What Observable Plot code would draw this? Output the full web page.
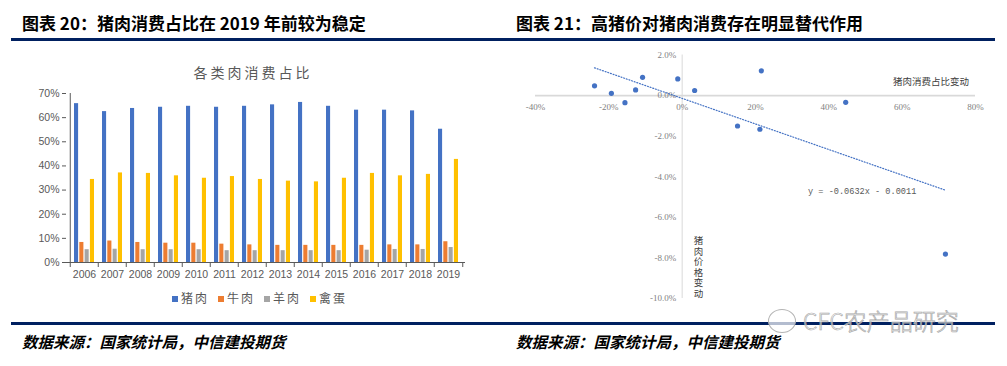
<!DOCTYPE html>
<html><head><meta charset="utf-8">
<script src="https://cdn.jsdelivr.net/npm/d3@7"></script>
<script src="https://cdn.jsdelivr.net/npm/@observablehq/plot@0.6"></script>
<style>
html,body{margin:0;padding:0;background:#fff;}
#page{position:relative;width:1007px;height:366px;overflow:hidden;font-family:"Noto Sans CJK SC","Noto Sans",sans-serif;}
.abs{position:absolute;white-space:nowrap;line-height:1;}
.title{font-size:17px;font-weight:700;color:#000;}
.rule{position:absolute;height:3px;background:#002060;}
.src{font-size:15.5px;font-weight:700;font-style:italic;color:#000;}
.legend{position:absolute;left:172px;top:292px;display:flex;gap:9px;font-size:12px;letter-spacing:2px;color:#595959;line-height:12px;}
.legend span.sw{display:inline-block;width:6px;height:6px;margin-right:3px;vertical-align:middle;position:relative;top:-1px;}
.anno{font-size:9.5px;color:#404040;}
</style></head><body>
<div id="page">
  <div class="abs title" style="left:22px;top:14px">图表 20：猪肉消费占比在 2019 年前较为稳定</div>
  <div class="abs title" style="left:516px;top:14px">图表 21：高猪价对猪肉消费存在明显替代作用</div>
  <div class="rule" style="left:11px;width:984px;top:38px"></div>
  <div class="rule" style="left:11px;width:984px;top:322px"></div>
  <div class="abs src" style="left:22px;top:334px">数据来源：国家统计局，中信建投期货</div>
  <div class="abs src" style="left:516px;top:334px">数据来源：国家统计局，中信建投期货</div>

  <div class="abs" style="left:253px;top:65px;transform:translateX(-50%);font-size:14px;letter-spacing:3px;color:#595959;">各类肉消费占比</div>
  <div id="leftChart" style="position:absolute;left:0;top:60px;"></div>
  <div class="legend" id="legend"></div>

  <div id="rightChart" style="position:absolute;left:505px;top:45px;"></div>
  <div class="abs anno" style="left:893px;top:77px;">猪肉消费占比变动</div>
  <div class="abs anno" style="left:693px;top:236px;writing-mode:vertical-rl;text-orientation:upright;line-height:1;letter-spacing:1px;">猪肉价格变动</div>
  <div class="abs" style="left:808px;top:188px;font-family:'Liberation Mono',monospace;font-size:8.6px;color:#595959;">y = -0.0632x - 0.0011</div>

  <div class="abs" style="left:768px;top:309px;width:26px;height:22px;border:1px solid #b5b5b5;border-radius:50%;background:rgba(255,255,255,0.7);"></div>
  <div class="abs" style="left:803px;top:309px;font-size:23px;font-family:'Noto Sans CJK SC',sans-serif;font-weight:300;color:rgba(255,255,255,0.55);-webkit-text-stroke:0.7px #a8a8a8;">CFC农产品研究</div>
</div>
<script>
// ---------- Chart 20 data ----------
const years = ["2006","2007","2008","2009","2010","2011","2012","2013","2014","2015","2016","2017","2018","2019"];
const seriesNames = ["猪肉","牛肉","羊肉","禽蛋"];
const seriesColors = ["#4472C4","#ED7D31","#A5A5A5","#FFC000"];
const pork       = [65.8, 62.5, 63.8, 64.3, 64.7, 64.3, 64.7, 65.3, 66.3, 64.7, 63.1, 63.1, 62.8, 55.2];
const beef       = [8.3, 8.9, 8.3, 8.0, 8.0, 7.6, 7.3, 7.1, 7.1, 7.1, 7.1, 7.3, 7.3, 8.6];
const mutton     = [5.3, 5.5, 5.3, 5.3, 5.3, 4.9, 4.9, 4.9, 4.9, 4.9, 5.1, 5.4, 5.4, 6.2];
const poultryEgg = [34.4, 37.1, 36.9, 35.9, 34.9, 35.6, 34.4, 33.7, 33.4, 34.9, 36.9, 35.9, 36.5, 42.7];
const yTicks20 = [0, 10, 20, 30, 40, 50, 60, 70];

// ---------- Chart 21 data ----------
const priceChange   = [-0.239, -0.193, -0.156, -0.127, -0.108, -0.012, 0.034, 0.151, 0.212, 0.216, 0.446, 0.718];
const consumeChange = [0.0048, 0.0011, -0.0035, 0.0028, 0.0090, 0.0082, 0.0025, -0.0150, -0.0166, 0.0122, -0.0033, -0.0781];
const xTicks21 = [-0.4, -0.2, 0, 0.2, 0.4, 0.6, 0.8];
const xTickLabels21 = ["-40%","-20%","0%","20%","40%","60%","80%"];
const yTicks21 = [0.02, 0, -0.02, -0.04, -0.06, -0.08, -0.10];
const yTickLabels21 = ["2.0%","0.0%","-2.0%","-4.0%","-6.0%","-8.0%","-10.0%"];

// ---------- Chart 20 ----------
const seriesValues = [pork, beef, mutton, poultryEgg];
const rows = years.map((y, j) => {
  const r = {year: y};
  seriesNames.forEach((n, i) => r[n] = seriesValues[i][j]);
  return r;
});
const W1 = 500, H1 = 250, ML1 = 66, MR1 = 35;
const step = (W1 - ML1 - MR1) / years.length;
const barW = 4.6, offsets = [4, 9.3, 14.6, 19.9];
const axisColor = "#595959";

const barMarks = seriesNames.map((n, i) => Plot.barY(rows, {
  x: "year", y: n, fill: seriesColors[i],
  insetLeft: offsets[i], insetRight: step - offsets[i] - barW
}));

const chart20 = Plot.plot({
  width: W1, height: H1,
  marginLeft: ML1, marginRight: MR1, marginTop: 33, marginBottom: 48,
  style: {fontFamily: "'Liberation Sans', sans-serif", fontSize: "10.5px", color: axisColor, background: "transparent", overflow: "visible"},
  x: {type: "band", domain: years, padding: 0, label: null},
  y: {domain: [0, 70], label: null},
  marks: [
    ...barMarks,
    Plot.axisY({ticks: yTicks20, tickFormat: d => d + "%", tickSize: 4, tickPadding: 3, fontSize: 10.5, stroke: axisColor, fill: axisColor, label: null}),
    Plot.axisX({tickSize: 0, tickPadding: 8, fontSize: 10.5, fill: axisColor, label: null}),
    Plot.ruleY([0], {stroke: axisColor, strokeWidth: 1}),
    Plot.ruleX([years[0]], {x: d => d, y1: 0, y2: 70, dx: -step / 2, stroke: axisColor}),
    Plot.ruleX(years, {x: d => d, y1: 0, y2: 0, insetBottom: -5, dx: -step / 2, stroke: axisColor}),
    Plot.ruleX([years[years.length - 1]], {x: d => d, y1: 0, y2: 0, insetBottom: -5, dx: step / 2, stroke: axisColor})
  ]
});
document.getElementById("leftChart").appendChild(chart20);

const legend = document.getElementById("legend");
seriesNames.forEach((n, i) => {
  const item = document.createElement("div");
  item.innerHTML = `<span class="sw" style="background:${seriesColors[i]}"></span>${n}`;
  legend.appendChild(item);
});

// ---------- Chart 21 ----------
const points = priceChange.map((x, i) => ({x, y: consumeChange[i]}));
const labColor = "#7f7f7f";
const chart21 = Plot.plot({
  width: 495, height: 270,
  marginLeft: 30, marginRight: 25, marginTop: 9.5, marginBottom: 17,
  style: {fontFamily: "'Liberation Serif', serif", fontSize: "9px", color: labColor, background: "transparent", overflow: "visible"},
  x: {domain: [-0.4, 0.8], axis: null},
  y: {domain: [-0.10, 0.02], axis: null},
  marks: [
    Plot.ruleY([0], {stroke: "#d9d9d9", strokeWidth: 1.6}),
    Plot.ruleX([0], {stroke: "#d9d9d9", strokeWidth: 1}),
    Plot.text(xTicks21, {x: d => d, y: 0, dy: 11.5, text: (d, i) => xTickLabels21[i], fill: labColor}),
    Plot.text(yTicks21, {x: 0, y: d => d, dx: -6, textAnchor: "end", text: (d, i) => yTickLabels21[i], fill: labColor}),
    Plot.linearRegressionY(points, {x: "x", y: "y", ci: 0, stroke: "#4472C4", strokeWidth: 1.2, strokeDasharray: "1,1.8"}),
    Plot.dot(points, {x: "x", y: "y", r: 2.6, fill: "#4472C4", stroke: "none"})
  ]
});
document.getElementById("rightChart").appendChild(chart21);
</script>
</body></html>
